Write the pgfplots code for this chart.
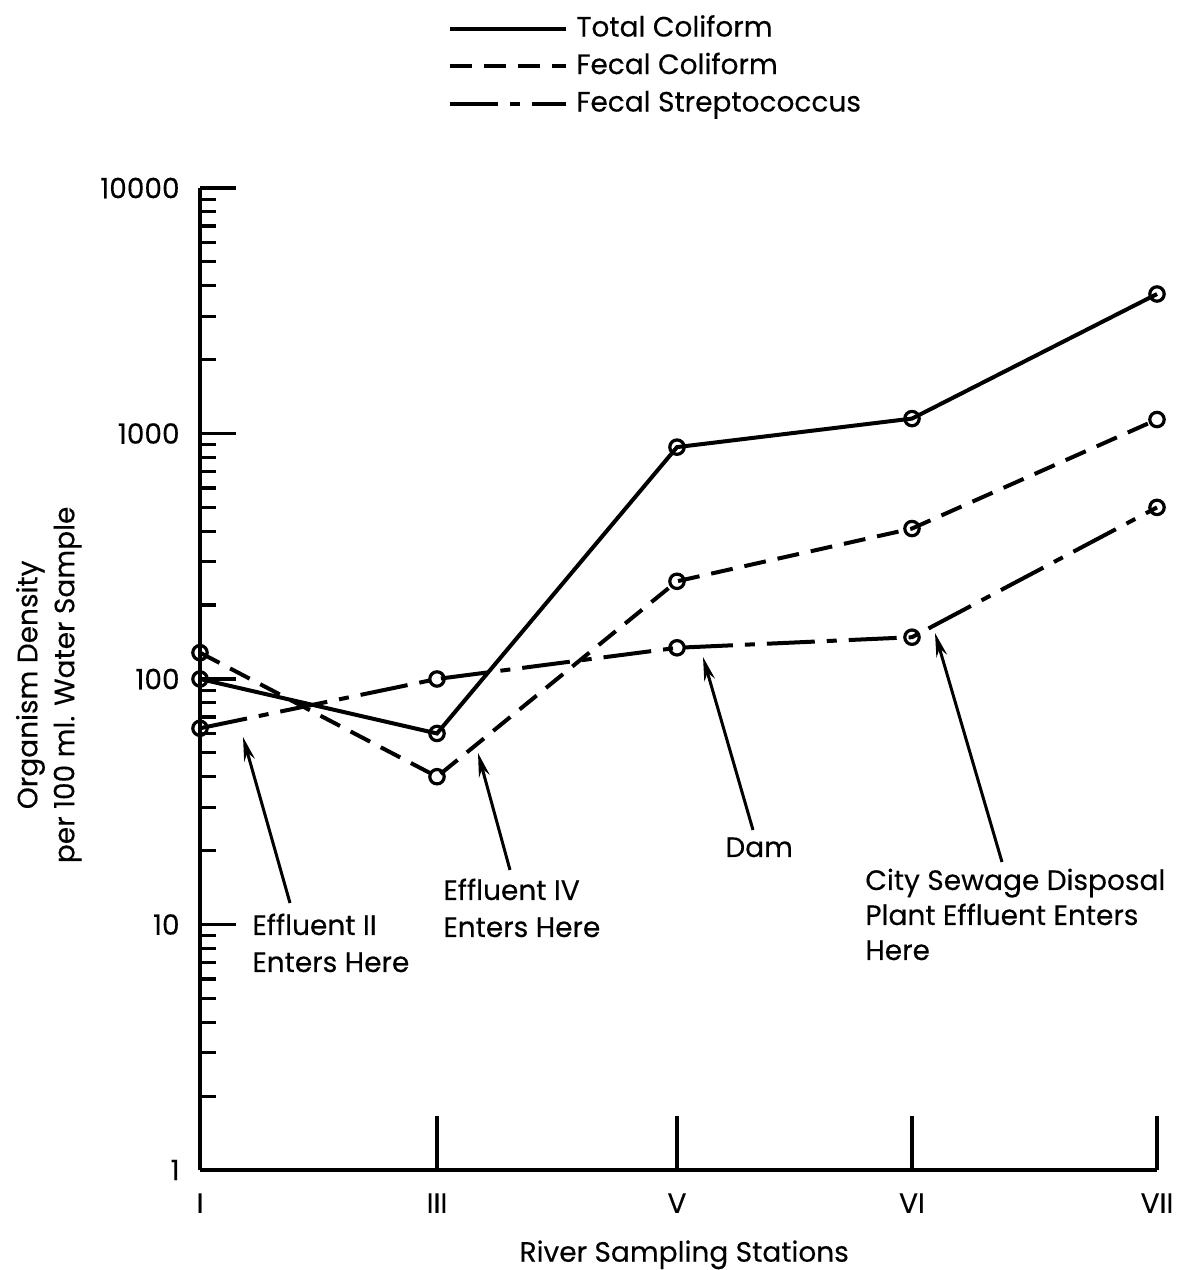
\documentclass[border=0pt]{standalone}
\usepackage{fontspec}
\setmainfont{Poppins}[FakeBold=0.3]
\usepackage{pgfplots}
\pgfplotsset{compat=1.18}
\usetikzlibrary{arrows.meta}
\newcommand\fs{\fontsize{14}{18.5}\selectfont}
\pgfplotsset{
  every tick/.append style={black, line width=1.6pt},
  every major tick/.append style={black, line width=1.6pt},
  every minor tick/.append style={black, line width=1.6pt},
  every x tick/.append style={black, line width=1.6pt},
  every y tick/.append style={black, line width=1.6pt},
}
\begin{document}
\begin{tikzpicture}[font=\fs]
\useasboundingbox (-100pt,-50pt) rectangle (488.5pt,585pt);
\begin{axis}[
  at={(0,0)}, anchor=south west,
  scale only axis, width=478.5pt, height=491pt,
  xmin=0, xmax=957, ymin=1, ymax=10000, ymode=log,
  axis lines=left, axis line style={-, line width=1.9pt},
  clip=false,
  tick align=inside,
  tick style={black, line width=1.6pt},
  major tick style={black, line width=1.6pt},
  minor tick length=0pt,
  major tick length=18pt,
  xtick={0,237,477,712,957},
  xticklabels={I,III,V,VI,VII},
  xtick style={black, line width=1.6pt, /pgfplots/major tick length=27pt},
  ytick={1,10,100,1000,10000},
  yticklabels={1,10,100,1000,10000},
  ytick style={black, line width=1.6pt},
  extra y ticks={2,3,4,5,6,7,8,9,20,30,40,50,60,70,80,90,200,300,400,500,600,700,800,900,2000,3000,4000,5000,6000,7000,8000,9000},
  extra y tick labels={},
  extra y tick style={major tick length=8pt,
    tick style={black, line width=1.6pt},
    major tick style={black, line width=1.6pt},
    ytick style={black, line width=1.6pt}},
  yticklabel style={anchor=east, inner sep=0pt, xshift=-10pt, font=\fs},
  xticklabel style={anchor=north, inner sep=0pt, yshift=-11.5pt, font=\fs},
  xlabel={River Sampling Stations},
  xlabel style={at={(axis description cs:0.506,-0.0713)}, anchor=north, inner sep=0pt, font=\fs},
  ylabel={Organism Density\\per 100 ml. Water Sample},
  ylabel style={at={(axis description cs:-0.158,0.494)}, anchor=center, align=center, inner sep=0pt, font=\fs},
  legend cell align=left,
  legend image code/.code={\draw[#1, mark=none] (0pt,0pt) -- (58pt,0pt);},
  legend style={at={(axis description cs:0.2591,1.175)}, anchor=north west,
    draw=none, fill=none, inner sep=0pt, row sep=6.75pt, font=\fs,
    nodes={inner sep=0pt, text height=10pt, text depth=2pt},
    /tikz/every odd column/.append style={column sep=4pt}},
]
\addplot[black, line width=2pt, mark=o, mark size=3.6pt,
  mark options={solid, line width=1.6pt, fill=white}]
  coordinates {(0,100) (237,60) (477,880) (712,1150) (957,3700)};
\addlegendentry{Total Coliform}
\addplot[black, line width=2pt, dash pattern=on 11pt off 6pt, mark=o, mark size=3.6pt,
  mark options={solid, line width=1.6pt, fill=white}]
  coordinates {(0,128) (237,40) (477,250) (712,410) (957,1140)};
\addlegendentry{Fecal Coliform}
\addplot[black, line width=2pt, dash pattern=on 24pt off 6pt on 5pt off 6pt, mark=o, mark size=3.6pt,
  mark options={solid, line width=1.6pt, fill=white}]
  coordinates {(0,63) (237,100) (477,134) (712,148) (957,500)};
\addlegendentry{Fecal Streptococcus}
\end{axis}
\begin{scope}[x=0.5pt, y=-0.5pt, shift={(-100pt,585pt)}]
  \draw[line width=1.5pt, -{Stealth[length=12pt,width=5.5pt]}] (290,903) -- (243,737);
  \draw[line width=1.5pt, -{Stealth[length=12pt,width=5.5pt]}] (510,870) -- (478,753);
  \draw[line width=1.5pt, -{Stealth[length=12pt,width=5.5pt]}] (753,830) -- (703,657);
  \draw[line width=1.5pt, -{Stealth[length=12pt,width=5.5pt]}] (1002,862) -- (935,633);
  \node[anchor=base west, inner sep=0pt] at (252,935) {Effluent II};
  \node[anchor=base west, inner sep=0pt] at (252,972) {Enters Here};
  \node[anchor=base west, inner sep=0pt] at (443,900) {Effluent IV};
  \node[anchor=base west, inner sep=0pt] at (443,937) {Enters Here};
  \node[anchor=base west, inner sep=0pt] at (725,857) {Dam};
  \node[anchor=base west, inner sep=0pt] at (865,890) {City Sewage Disposal};
  \node[anchor=base west, inner sep=0pt] at (865,925) {Plant Effluent Enters};
  \node[anchor=base west, inner sep=0pt] at (865,960) {Here};
\end{scope}
\end{tikzpicture}
\end{document}
